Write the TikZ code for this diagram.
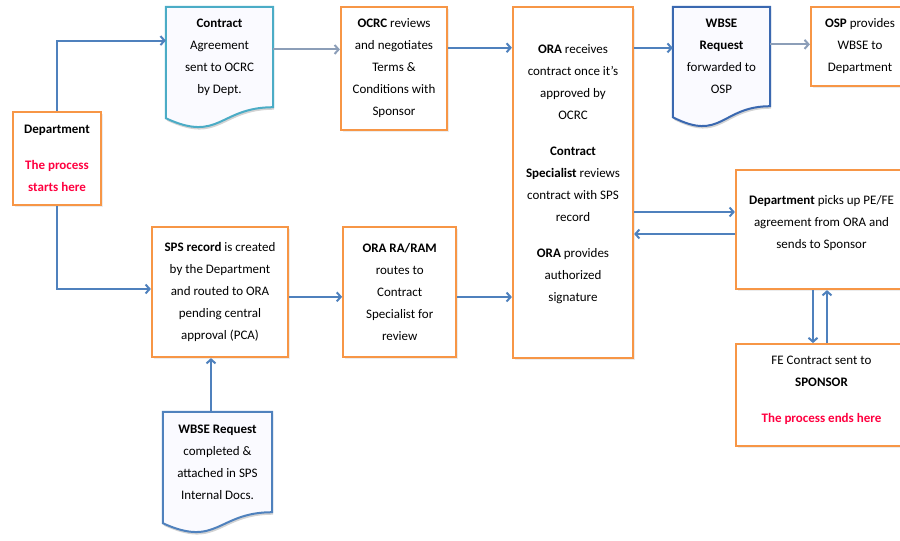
\documentclass[tikz,border=0pt]{standalone}
\usepackage{fontspec}
\setmainfont{Carlito}
\usepackage{xcolor}
\usetikzlibrary{positioning,arrows.meta,calc,shadows,backgrounds}

\definecolor{boxorange}{RGB}{247,150,70}
\definecolor{arrblue}{RGB}{79,129,189}
\definecolor{arrgrey}{RGB}{140,158,184}
\definecolor{docteal}{RGB}{75,172,198}
\definecolor{docblue}{RGB}{58,104,176}
\definecolor{startred}{RGB}{255,0,64}

% document outline with a wavy lower edge
\newcommand{\docpath}[1]{(#1.north west) -- (#1.north east) -- (#1.south east)
  .. controls (#1.south) and ($(#1.south)+(0,-36)$) .. ($(#1.south west)+(0,-11)$) -- cycle}

\begin{document}
\begin{tikzpicture}[
  x=1pt, y=1pt,
  node distance=53pt and 53pt,
  stepbox/.style={draw=boxorange, line width=2.2pt, fill=white,
                  align=center, inner sep=2pt,
                  font=\fontsize{13}{22}\selectfont,
                  drop shadow={shadow xshift=1.5pt, shadow yshift=-1.5pt, opacity=0.15}},
  docbox/.style={align=center, inner sep=2pt,
                 font=\fontsize{13}{22}\selectfont},
  docline/.style={line width=2pt, fill=blue!2,
                  drop shadow={shadow xshift=1pt, shadow yshift=-2.5pt, opacity=0.35}},
  arr/.style={-{Straight Barb[length=4pt, width=9pt]}, line width=2pt, draw=arrblue},
  garr/.style={arr, draw=arrgrey},
]
\useasboundingbox (0,0) rectangle (900,-541);
\clip (0,0) rectangle (900,-541);

%% Documents
\node[docbox, minimum width=107pt, minimum height=100pt] (contract) at (219.5,-57)
  {\textbf{Contract}\\Agreement\\sent to OCRC\\by Dept.};
\node[docbox, minimum width=97pt, minimum height=99pt] (wbse) at (721.5,-56.5)
  {\textbf{WBSE}\\\textbf{Request}\\forwarded to\\OSP};
\node[docbox, minimum width=109pt, minimum height=100pt] (wbsedoc) at (217.5,-462)
  {\textbf{WBSE Request}\\completed \&\\attached in SPS\\Internal Docs.};

\begin{pgfonlayer}{background}
\draw[docline, draw=docteal] \docpath{contract};
\draw[docline, draw=docblue] \docpath{wbse};
\draw[docline, draw=arrblue] \docpath{wbsedoc};
\end{pgfonlayer}

%% Process boxes
\node[stepbox, minimum width=88pt, minimum height=93pt] (dept) at (57,-158.5)
  {\textbf{Department}\\[14pt]\color{startred}\textbf{The process}\\\color{startred}\textbf{starts here}};
\node[stepbox, minimum width=106pt, minimum height=123pt] (ocrc) at (394,-68.5)
  {\textbf{OCRC} reviews\\and negotiates\\Terms \&\\Conditions with\\Sponsor};
\node[stepbox, minimum width=120pt, minimum height=351pt] (ora) at (573,-182.5)
  {\textbf{ORA} receives\\contract once it's\\approved by\\OCRC\\[14pt]
   \textbf{Contract}\\\textbf{Specialist} reviews\\contract with SPS\\record\\[14pt]
   \textbf{ORA} provides\\authorized\\signature\\[-3pt]\mbox{}};
\node[stepbox, minimum width=98pt, minimum height=79pt] (osp) at (860,-46.5)
  {\textbf{OSP} provides\\WBSE to\\Department};
\node[stepbox, minimum width=171pt, minimum height=119pt] (pick) at (821.5,-229.5)
  {\textbf{Department} picks up PE/FE\\agreement from ORA and\\sends to Sponsor\\[-7pt]\mbox{}};
\node[stepbox, minimum width=171pt, minimum height=102pt, below=53pt of pick] (fe)
  {FE Contract sent to\\\textbf{SPONSOR}\\[14pt]\color{startred}\textbf{The process ends here}\\[-11pt]\mbox{}};
\node[stepbox, minimum width=136pt, minimum height=130pt] (sps) at (220,-292)
  {\textbf{SPS record} is created\\by the Department\\and routed to ORA\\pending central\\approval (PCA)};
\node[stepbox, minimum width=113pt, minimum height=130pt, right=53pt of sps] (ram)
  {\textbf{ORA RA/RAM}\\routes to\\Contract\\Specialist for\\review};

%% Helper points on box sides
\coordinate (pickin) at ([yshift=17.5pt]pick.west);
\coordinate (pickout) at ([yshift=-4.5pt]pick.west);
\coordinate (pickdown) at ([xshift=-8.5pt]pick.south);
\coordinate (feup) at ([xshift=5.5pt]fe.north);
\coordinate (wbseup) at ([xshift=-6.5pt]wbsedoc.north);

%% Connectors
\draw[arr] (dept.north) |- (contract.163);
\draw[arr] (dept.south) |- ([yshift=3pt]sps.west);
\draw[garr] (contract.8) -- (contract.8 -| ocrc.west);
\draw[arr] (ocrc.21) -- (ocrc.21 -| ora.west);
\draw[arr] (wbse.170 -| ora.east) -- (wbse.170);
\draw[garr] (wbse.14) -- (wbse.14 -| osp.west);
\draw[arr] (pickin -| ora.east) -- (pickin);
\draw[arr] (pickout) -- (pickout -| ora.east);
\draw[arr] (pickdown) -- (pickdown |- fe.north);
\draw[arr] (feup) -- (feup |- pick.south);
\draw[arr] (sps.-4) -- (sps.-4 -| ram.west);
\draw[arr] (ram.-5) -- (ram.-5 -| ora.west);
\draw[arr] (wbseup) -- (wbseup |- sps.south);

\end{tikzpicture}
\end{document}
